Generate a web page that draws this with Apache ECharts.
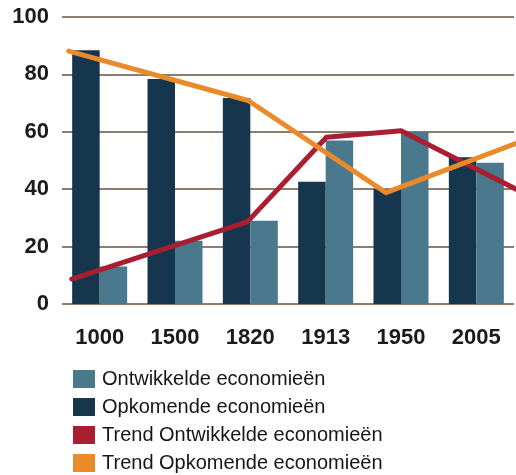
<!DOCTYPE html>
<html>
<head>
<meta charset="utf-8">
<script src="https://cdn.jsdelivr.net/npm/echarts@6/dist/echarts.min.js"></script>
<style>
  html, body { margin: 0; padding: 0; background: #ffffff; }
  #chart { width: 516px; height: 475px; }
</style>
</head>
<body>
<div id="chart"></div>
<script>
// Share of world output (%) per period
const years = ['1000', '1500', '1820', '1913', '1950', '2005'];
const opkomende = [88.4, 78.4, 71.8, 42.6, 40, 51.1];
const ontwikkelde = [13.1, 22, 29, 57, 60, 49.2];

// Trend lines: x in category positions (0 = left edge, 6 = right edge)
const trendOntwX = [0.13, 2.46, 3.51, 4.50, 6.03];
const trendOntwY = [8.7, 28.6, 58.1, 60.4, 40.0];
const trendOpkX = [0.09, 2.47, 4.30, 6.03];
const trendOpkY = [88.1, 70.9, 38.8, 56.0];

const yTicks = [0, 20, 40, 60, 80, 100];

const names = {
  ontw: 'Ontwikkelde economieën',
  opk: 'Opkomende economieën',
  tOntw: 'Trend Ontwikkelde economieën',
  tOpk: 'Trend Opkomende economieën'
};

const FONT = '"Liberation Sans", Arial, Helvetica, sans-serif';
const pair = (xs, ys) => xs.map((x, i) => [x, ys[i]]);

const chart = echarts.init(document.getElementById('chart'), null, { renderer: 'canvas' });
chart.setOption({
  animation: false,
  backgroundColor: '#ffffff',
  textStyle: { fontFamily: FONT },
  grid: { left: 62, right: 2, top: 17, bottom: 171, containLabel: false },
  legend: {
    orient: 'vertical',
    left: 73,
    top: 369,
    width: 400,
    height: 140,
    padding: 0,
    icon: 'rect',
    itemWidth: 22,
    itemHeight: 18,
    itemGap: 8,
    data: [names.ontw, names.opk, names.tOntw, names.tOpk],
    textStyle: {
      fontFamily: FONT, fontSize: 20, color: '#161616',
      padding: [0, 0, 0, 2]
    }
  },
  xAxis: [
    {
      type: 'category',
      data: years,
      axisLine: { show: false },
      axisTick: { show: false },
      axisLabel: {
        fontFamily: FONT, fontSize: 22, fontWeight: 'bold', color: '#1b1b1b', margin: 23
      }
    },
    { type: 'value', min: 0, max: 6, show: false }
  ],
  yAxis: {
    type: 'value',
    min: yTicks[0],
    max: yTicks[yTicks.length - 1],
    interval: 20,
    axisLine: { show: false },
    axisTick: { show: false },
    axisLabel: {
      fontFamily: FONT, fontSize: 22, fontWeight: 'bold', color: '#1b1b1b', margin: 13
    },
    splitLine: { lineStyle: { color: '#8d7d71', width: 2 } }
  },
  series: [
    {
      name: names.opk,
      type: 'bar',
      data: opkomende,
      barGap: '0%',
      barCategoryGap: '27%',
      itemStyle: { color: '#15364c' }
    },
    {
      name: names.ontw,
      type: 'bar',
      data: ontwikkelde,
      itemStyle: { color: '#4a798d' }
    },
    {
      name: names.tOntw,
      type: 'line',
      xAxisIndex: 1,
      data: pair(trendOntwX, trendOntwY),
      symbol: 'none',
      clip: false,
      itemStyle: { color: '#a91e31' },
      lineStyle: { color: '#a91e31', width: 5, cap: 'round', join: 'round' }
    },
    {
      name: names.tOpk,
      type: 'line',
      xAxisIndex: 1,
      data: pair(trendOpkX, trendOpkY),
      symbol: 'none',
      clip: false,
      itemStyle: { color: '#e98b2b' },
      lineStyle: { color: '#e98b2b', width: 5, cap: 'round', join: 'round' }
    }
  ]
});
</script>
</body>
</html>
